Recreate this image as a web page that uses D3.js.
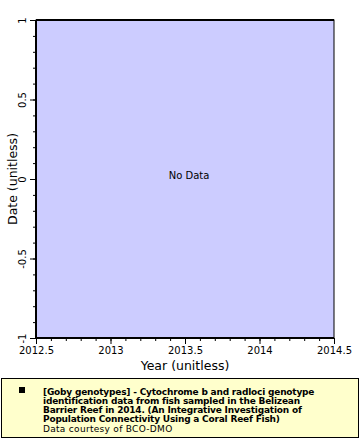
<!DOCTYPE html>
<html><head><meta charset="utf-8">
<script src="https://cdn.jsdelivr.net/npm/d3@7"></script>
<style>body{margin:0;background:#fff}svg{display:block}text{font-family:"DejaVu Sans",Verdana,sans-serif}</style>
</head><body>
<script>
const xDomain = [2012.5, 2014.5];
const yDomain = [-1, 1];
const xTickValues = [2012.5, 2013, 2013.5, 2014, 2014.5];
const xTickLabels = ["2012.5", "2013", "2013.5", "2014", "2014.5"];
const yTickValues = [-1, -0.5, 0, 0.5, 1];
const yTickLabels = ["-1", "-0.5", "0", "0.5", "1"];
const legendLines = ["[Goby genotypes] - Cytochrome b and radloci genotype",
  "identification data from fish sampled in the Belizean",
  "Barrier Reef in 2014. (An Integrative Investigation of",
  "Population Connectivity Using a Coral Reef Fish)"];
const credit = "Data courtesy of BCO-DMO";

const W = 360, H = 440;
const m = {l: 36, r: 334, t: 20, b: 338};
const svg = d3.select("body").append("svg").attr("width", W).attr("height", H);
const x = d3.scaleLinear().domain(xDomain).range([m.l, m.r]);
const y = d3.scaleLinear().domain(yDomain).range([m.b, m.t]);

svg.append("rect").attr("x", m.l).attr("y", m.t).attr("width", m.r - m.l).attr("height", m.b - m.t)
  .attr("fill", "#ccccff").attr("stroke", "#000").attr("stroke-width", 1);

const minorX = d3.range(21).map(i => xDomain[0] + i * 0.1);
const minorY = d3.range(21).map(i => yDomain[0] + i * 0.1);

// X axis
const gx = svg.append("g").attr("transform", `translate(0,${m.b})`);
gx.call(d3.axisBottom(x).tickValues(minorX).tickSize(3).tickFormat(""));
gx.call(g => g.select(".domain").remove());
const gx2 = svg.append("g").attr("transform", `translate(0,${m.b})`);
gx2.call(d3.axisBottom(x).tickValues(xTickValues).tickSize(6).tickFormat((d, i) => xTickLabels[i]));
gx2.selectAll("text").attr("font-size", 10).attr("y", 9).attr("fill", "#000");
gx2.select(".domain").attr("stroke-width", 2).attr("d", `M${m.l},0H${m.r}`);

// Y axis
const gy = svg.append("g").attr("transform", `translate(${m.l},0)`);
gy.call(d3.axisLeft(y).tickValues(minorY).tickSize(3).tickFormat(""));
gy.call(g => g.select(".domain").remove());
const gy2 = svg.append("g").attr("transform", `translate(${m.l},0)`);
gy2.call(d3.axisLeft(y).tickValues(yTickValues).tickSize(6).tickFormat((d, i) => yTickLabels[i]));
gy2.select(".domain").attr("stroke-width", 2).attr("d", `M0,${m.t}V${m.b}`);
gy2.selectAll(".tick text").attr("font-size", 10).attr("fill", "#000")
  .attr("x", null).attr("dy", null).attr("text-anchor", "middle")
  .attr("transform", "translate(-10,0) rotate(-90)");
svg.selectAll(".tick line").attr("stroke", "#000");
svg.append("line").attr("x1", m.l).attr("x2", m.r).attr("y1", m.t).attr("y2", m.t).attr("stroke", "#000").attr("stroke-width", 2);

svg.append("text").attr("x", (m.l + m.r) / 2).attr("y", 370).attr("text-anchor", "middle")
  .attr("font-size", 12.5).text("Year (unitless)");
svg.append("text").attr("transform", `translate(17,${(m.t + m.b) / 2}) rotate(-90)`).attr("text-anchor", "middle")
  .attr("font-size", 12.5).text("Date (unitless)");
svg.append("text").attr("x", 189).attr("y", 179).attr("text-anchor", "middle")
  .attr("font-size", 10).text("No Data");

// Legend
svg.append("rect").attr("x", 1.5).attr("y", 378.5).attr("width", 357).attr("height", 59)
  .attr("fill", "#ffffcc").attr("stroke", "#000").attr("stroke-width", 1);
svg.append("rect").attr("x", 19).attr("y", 387).attr("width", 6).attr("height", 6).attr("fill", "#000");
legendLines.forEach((t, i) => {
  svg.append("text").attr("x", 43).attr("y", 395 + i * 9).attr("font-size", 9).attr("font-weight", "bold")
    .attr("letter-spacing", -0.2).text(t);
});
svg.append("text").attr("x", 43).attr("y", 432).attr("font-size", 9).attr("letter-spacing", 0.3).text(credit);
</script>
</body></html>
